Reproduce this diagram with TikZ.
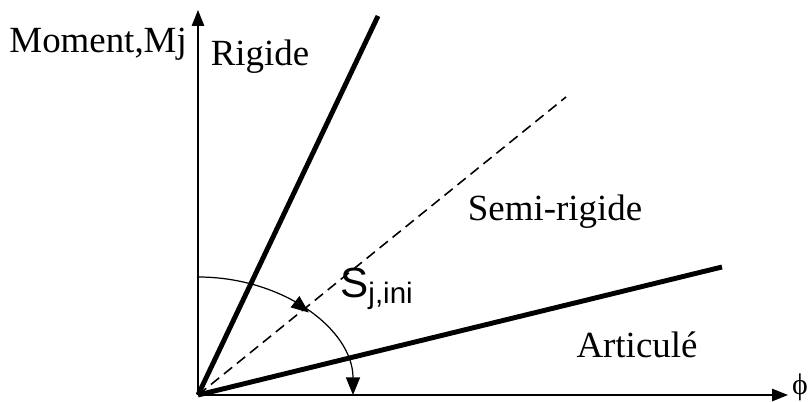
\documentclass[tikz,border=0pt]{standalone}
\usepackage{fontspec}
\setmainfont{Liberation Serif}
\newfontfamily\arialfont{Liberation Sans}
\usetikzlibrary{arrows.meta,decorations.markings}

\begin{document}
\begin{tikzpicture}[=>Triangle,
  lbl/.style={font=\fontsize{21}{24}\selectfont},
  courbe/.style={line width=2.8pt},
  axe/.style={line width=0.8pt,-{Triangle[length=9pt,width=7pt]}}]
\useasboundingbox(-3.96,-0.12)rectangle(12.26,7.9);
\coordinate(O)at(0,0);
\coordinate(Ym)at(0,7.7);
\coordinate(Xm)at(11.8,0);
\coordinate(R)at(3.6,7.58);
\coordinate(SR)at(7.36,5.96);
\coordinate(A)at(10.48,2.56);
\coordinate(Dep)at(0,2.36);
% axes
\draw[axe](O)--(Ym);
\draw[axe](O)--(Xm);
% droites
\draw[courbe](O)--(R);
\draw[line width=0.9pt,dash pattern=on 6pt off 3.5pt](O)--(SR);
\draw[courbe](O)--(A);
% rigidite initiale
\draw[line width=0.7pt,-{Triangle[length=10pt,width=8pt]},
  postaction={decorate},
  decoration={markings,mark=at position 0.55 with {\arrow{Triangle[length=10pt,width=8pt]}}}]
  (Dep)arc[start angle=90,end angle=0,x radius=3.1,y radius=2.36];
\node[lbl,anchor=east](mom)at(-0.1,7.02){Moment,Mj};
\node[lbl](rig)at(1.24,6.76){Rigide};
\node[lbl](semi)at(7.14,3.66){Semi-rigide};
\node[lbl](art)at(8.78,1.0){Articulé};
\node[font=\arialfont\fontsize{24}{28}\selectfont](sj)at(3.58,2.12){S\textsubscript{j,ini}};
\node[font=\fontsize{17}{20}\selectfont,anchor=west,inner sep=1pt](phi)at(11.84,0.16){ϕ};
\end{tikzpicture}
\end{document}
